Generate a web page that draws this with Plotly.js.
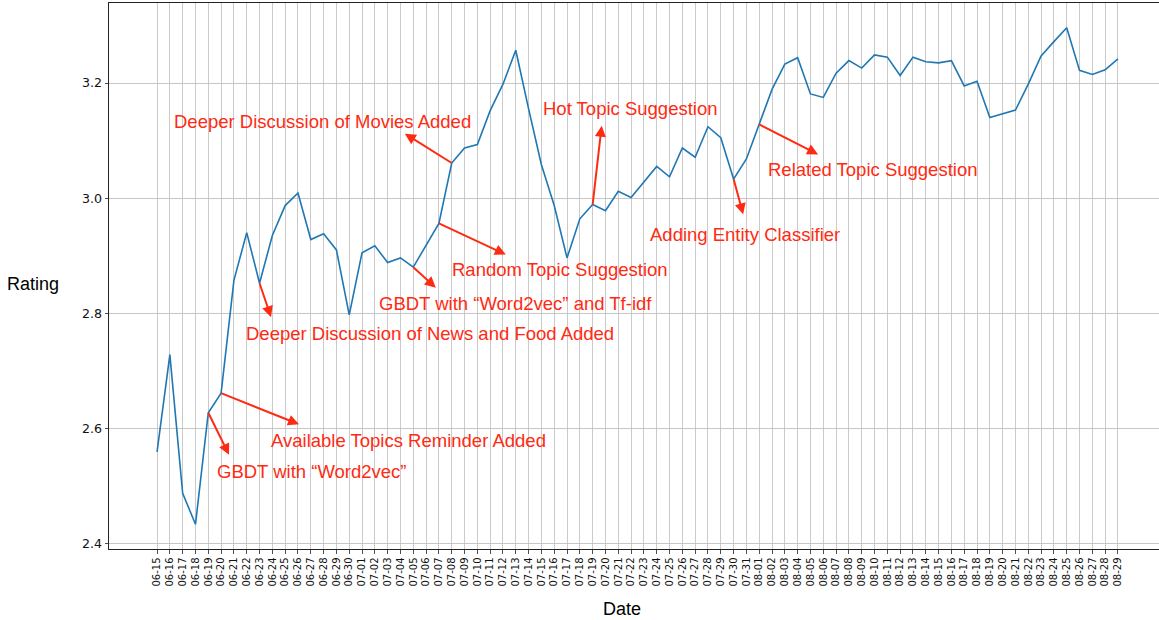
<!DOCTYPE html>
<html>
<head>
<meta charset="utf-8">
<script src="https://cdn.plot.ly/plotly-3.0.1.min.js"></script>
<style>
html, body { margin: 0; padding: 0; overflow: hidden; background: #fff; }
#chart { width: 1166px; height: 620px; }
</style>
</head>
<body>
<div id="chart"></div>
<script>
// ---------- data ----------
const dates = [
  "06-15","06-16","06-17","06-18","06-19","06-20","06-21","06-22","06-23","06-24",
  "06-25","06-26","06-27","06-28","06-29","06-30","07-01","07-02","07-03","07-04",
  "07-05","07-06","07-07","07-08","07-09","07-10","07-11","07-12","07-13","07-14",
  "07-15","07-16","07-17","07-18","07-19","07-20","07-21","07-22","07-23","07-24",
  "07-25","07-26","07-27","07-28","07-29","07-30","07-31","08-01","08-02","08-03",
  "08-04","08-05","08-06","08-07","08-08","08-09","08-10","08-11","08-12","08-13",
  "08-14","08-15","08-16","08-17","08-18","08-19","08-20","08-21","08-22","08-23",
  "08-24","08-25","08-26","08-27","08-28","08-29"
];
const ratings = [
  2.559, 2.728, 2.487, 2.433, 2.627, 2.661, 2.857, 2.940, 2.852, 2.935,
  2.987, 3.009, 2.928, 2.938, 2.910, 2.797, 2.905, 2.917, 2.888, 2.896,
  2.880, 2.918, 2.956, 3.061, 3.087, 3.093, 3.152, 3.198, 3.257, 3.155,
  3.058, 2.987, 2.896, 2.964, 2.989, 2.978, 3.012, 3.001, 3.029, 3.055,
  3.037, 3.087, 3.071, 3.124, 3.105, 3.033, 3.068, 3.128, 3.189, 3.233,
  3.244, 3.181, 3.175, 3.217, 3.239, 3.226, 3.249, 3.245, 3.213, 3.245,
  3.237, 3.235, 3.239, 3.195, 3.203, 3.140, 3.147, 3.153, 3.198, 3.247,
  3.272, 3.296, 3.222, 3.215, 3.223, 3.242
];
const yTicks = [2.4, 2.6, 2.8, 3.0, 3.2];
const eventLabels = [
  "GBDT with \u201cWord2vec\u201d",
  "Available Topics Reminder Added",
  "Deeper Discussion of News and Food Added",
  "GBDT with \u201cWord2vec\u201d and Tf-idf",
  "Random Topic Suggestion",
  "Deeper Discussion of Movies Added",
  "Hot Topic Suggestion",
  "Adding Entity Classifier",
  "Related Topic Suggestion"
];
const eventDates = ["06-19","06-20","06-23","07-05","07-07","07-08","07-19","07-30","08-01"];

// ---------- layout / style (pixel placements) ----------
const W = 1166, H = 620;
const M = { l: 109, r: 0, t: 3, b: 71 };
const plotW = W - M.l - M.r, plotH = H - M.t - M.b;
const px2x = p => (p - M.l) / plotW;
const px2y = p => (H - M.b - p) / plotH;

// arrow head offsets from data point (px) and label left/middle positions (px)
const arrowOffsets = [[21.5,43.6],[79.4,31.8],[12,35.5],[24,22],[68.4,31.8],[-48.4,-30.3],[9.2,-80.3],[10,36.7],[60.4,30.7]];
const labelPos = [[215,471.4],[269,440.4],[244,333],[377,303.6],[449.5,269],[172,121.4],[540.5,108.2],[648,234],[765.5,169]];

const red = "#ff2a12";
const annotations = [];
eventDates.forEach((d, i) => {
  const idx = dates.indexOf(d);
  annotations.push({
    x: d, y: ratings[idx], xref: "x", yref: "y",
    ax: arrowOffsets[i][0], ay: arrowOffsets[i][1], axref: "pixel", ayref: "pixel",
    text: "", showarrow: true, arrowside: "start",
    startarrowhead: 2, startarrowsize: 1.1, arrowwidth: 2, arrowcolor: red
  });
  annotations.push({
    x: px2x(labelPos[i][0]), y: px2y(labelPos[i][1]), xref: "paper", yref: "paper",
    xanchor: "left", yanchor: "middle", showarrow: false,
    text: eventLabels[i],
    font: { family: "Liberation Sans, Arial, sans-serif", size: 18.5, color: red }
  });
});
annotations.push({
  x: px2x(33), y: px2y(283.5), xref: "paper", yref: "paper",
  xanchor: "center", yanchor: "middle", showarrow: false, text: "Rating",
  font: { family: "Liberation Sans, Arial, sans-serif", size: 18, color: "#000" }
});
annotations.push({
  x: px2x(621.5), y: px2y(609), xref: "paper", yref: "paper",
  xanchor: "center", yanchor: "middle", showarrow: false, text: "Date",
  font: { family: "Liberation Sans, Arial, sans-serif", size: 18, color: "#000" }
});

const trace = {
  x: dates, y: ratings, type: "scatter", mode: "lines",
  line: { color: "#1f77b4", width: 1.6 }, hoverinfo: "skip"
};

const layout = {
  width: W, height: H,
  margin: M,
  paper_bgcolor: "#fff", plot_bgcolor: "#fff",
  showlegend: false,
  xaxis: {
    type: "category",
    categoryorder: "array", categoryarray: dates,
    range: [-3.75, 78.75],
    tickangle: -90,
    tickfont: { family: "DejaVu Sans", size: 10, color: "#111" },
    ticks: "outside", ticklen: 3.5, tickwidth: 0.8, tickcolor: "#222",
    showgrid: true, gridcolor: "#c4c4c4", gridwidth: 0.9,
    showline: true, linecolor: "#222", linewidth: 1, mirror: true,
    zeroline: false, automargin: false
  },
  yaxis: {
    range: [2.3901, 3.3391],
    tickvals: yTicks, tickformat: ".1f",
    tickfont: { family: "DejaVu Sans", size: 12.6, color: "#111" },
    ticks: "outside", ticklen: 3.5, tickwidth: 0.8, tickcolor: "#222",
    showgrid: true, gridcolor: "#c0c0c0", gridwidth: 0.9,
    showline: true, linecolor: "#222", linewidth: 1, mirror: true,
    zeroline: false, automargin: false
  },
  annotations: annotations
};

Plotly.newPlot("chart", [trace], layout, { staticPlot: true, displayModeBar: false });
</script>
</body>
</html>
